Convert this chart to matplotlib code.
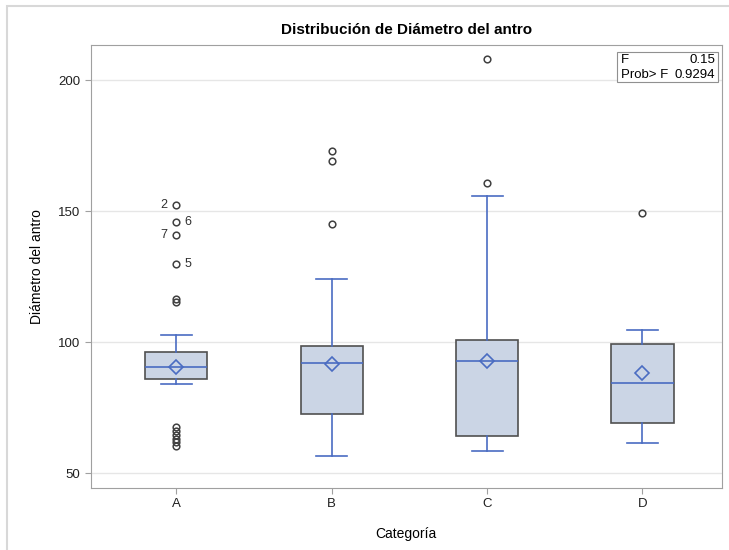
import matplotlib
matplotlib.use("Agg")
import matplotlib.pyplot as plt
from matplotlib.patches import Rectangle

plt.rcParams['font.family'] = ['Liberation Sans', 'DejaVu Sans']

categories = ['A', 'B', 'C', 'D']
q1 = [86.0, 72.5, 64.1, 69.0]
med = [90.5, 91.9, 92.9, 84.2]
q3 = [96.2, 98.5, 100.8, 99.2]
means = [90.6, 91.5, 92.9, 88.2]
whislo = [84.1, 56.5, 58.4, 61.6]
whishi = [102.8, 123.9, 155.8, 104.7]
fliers = [
    [152.2, 145.8, 140.8, 129.9, 116.4, 115.4, 67.5, 66.0, 64.4, 63.0, 61.7, 60.3],
    [173.0, 169.2, 145.0],
    [207.9, 160.8],
    [149.4],
]
# labelled outliers of A: (value, label, side)
labels_a = [(152.2, '2', 'left'), (145.8, '6', 'right'),
            (140.8, '7', 'left'), (129.9, '5', 'right')]
f_value = '0.15'
p_value = '0.9294'

stats = []
for i, c in enumerate(categories):
    stats.append(dict(label=c, q1=q1[i], med=med[i], q3=q3[i], mean=means[i],
                      whislo=whislo[i], whishi=whishi[i], fliers=fliers[i]))

blue = '#4a6cc2'
fig = plt.figure(figsize=(7.29, 5.5), dpi=100)
ax = fig.add_axes([0.1248, 0.1127, 0.8652, 0.8055])

ax.bxp(stats, positions=range(4), widths=0.4, showmeans=True, patch_artist=True,
       boxprops=dict(facecolor='#cbd5e5', edgecolor='#505050', linewidth=1.2),
       medianprops=dict(color=blue, linewidth=1.2),
       whiskerprops=dict(color=blue, linewidth=1.2),
       capprops=dict(color=blue, linewidth=1.2),
       capwidths=0.2,
       meanprops=dict(marker='D', markerfacecolor='none', markeredgecolor=blue,
                      markersize=7, markeredgewidth=1.2),
       flierprops=dict(marker='o', markerfacecolor='none', markeredgecolor='#404040',
                       markersize=4.8, markeredgewidth=1.1))

for v, lab, side in labels_a:
    dx = -0.06 if side == 'left' else 0.05
    ax.text(0 + dx, v, lab, ha='right' if side == 'left' else 'left', va='center',
            fontsize=9, color='#303030')

ax.set_xlim(-0.55, 3.51)
ax.set_ylim(44.3, 213.4)
ax.set_yticks([50, 100, 150, 200])
ax.yaxis.grid(True, color='#e6e6e6', linewidth=1)
ax.set_axisbelow(True)
for s in ax.spines.values():
    s.set_color('#a0a0a0')
ax.tick_params(colors='#a0a0a0', labelcolor='#202020', labelsize=9.5, length=4)

ax.set_title('Distribución de Diámetro del antro', fontsize=11, fontweight='bold', pad=8)
ax.set_xlabel('Categoría', fontsize=10, labelpad=12)
ax.set_ylabel('Diámetro del antro', fontsize=10, labelpad=10)

# statistics inset
ax.add_patch(Rectangle((0.834, 0.916), 0.16, 0.068, transform=ax.transAxes,
                       facecolor='white', edgecolor='#909090', linewidth=0.8, zorder=5))
ax.text(0.840, 0.966, 'F', transform=ax.transAxes, fontsize=9.5, va='center', zorder=6)
ax.text(0.990, 0.966, f_value, transform=ax.transAxes, fontsize=9.5, va='center',
        ha='right', zorder=6)
ax.text(0.840, 0.933, 'Prob> F', transform=ax.transAxes, fontsize=9.5, va='center', zorder=6)
ax.text(0.990, 0.933, p_value, transform=ax.transAxes, fontsize=9.5, va='center',
        ha='right', zorder=6)

# page border of the original screenshot
fig.add_artist(Rectangle((0.01, -0.1), 1.2, 1.09, transform=fig.transFigure,
                         facecolor='none', edgecolor='#d8d8d8', linewidth=1.5))

fig.savefig('out.png', dpi=100)
